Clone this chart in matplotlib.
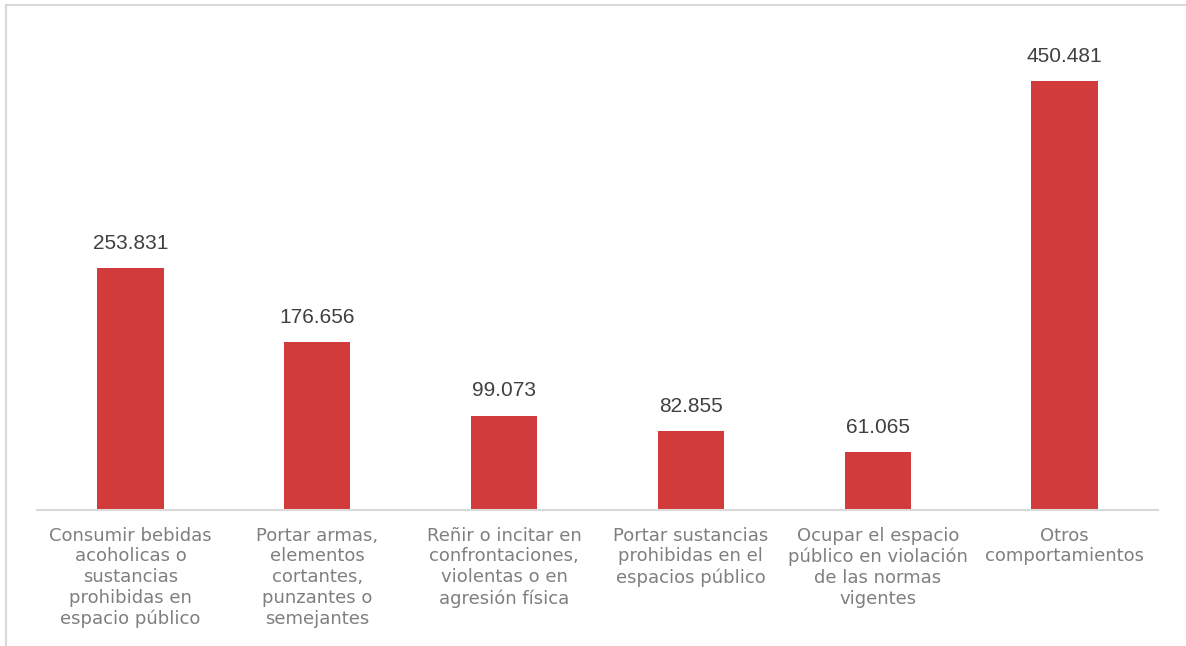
import matplotlib
matplotlib.use("Agg")
import matplotlib.pyplot as plt
from matplotlib.lines import Line2D

categories = [
    "Consumir bebidas\nacoholicas o\nsustancias\nprohibidas en\nespacio público",
    "Portar armas,\nelementos\ncortantes,\npunzantes o\nsemejantes",
    "Reñir o incitar en\nconfrontaciones,\nviolentas o en\nagresión física",
    "Portar sustancias\nprohibidas en el\nespacios público",
    "Ocupar el espacio\npúblico en violación\nde las normas\nvigentes",
    "Otros\ncomportamientos",
]
values = [253831, 176656, 99073, 82855, 61065, 450481]
value_labels = ["253.831", "176.656", "99.073", "82.855", "61.065", "450.481"]

bar_color = "#D13B3C"
grid_gray = "#D9D9D9"

fig = plt.figure(figsize=(11.86, 6.46), dpi=100)
ax = fig.add_axes([37 / 1186, 1 - 510 / 646, 1121 / 1186, 476 / 646])

x = list(range(len(categories)))
bars = ax.bar(x, values, width=0.355, color=bar_color, zorder=2)

ax.set_xlim(-0.5, len(categories) - 0.5)
ax.set_ylim(0, 500000)

for rect, lab in zip(bars, value_labels):
    ax.annotate(lab, (rect.get_x() + rect.get_width() / 2, rect.get_height()),
                xytext=(0, 11), textcoords="offset points",
                ha="center", va="bottom", fontsize=15,
                family="Liberation Sans", color="#404040")

ax.set_xticks(x)
ax.set_xticklabels(categories, fontsize=13, color="#7F7F7F",
                   family="DejaVu Sans", linespacing=1.2)
ax.tick_params(axis="x", length=0, pad=12)
ax.set_yticks([])

for side in ["top", "right", "left"]:
    ax.spines[side].set_visible(False)
ax.spines["bottom"].set_color(grid_gray)
ax.spines["bottom"].set_linewidth(1.5)

# light frame along the top and left edges
fig.add_artist(Line2D([6 / 1186, 1], [1 - 5 / 646, 1 - 5 / 646],
                      transform=fig.transFigure, color=grid_gray, lw=1.5))
fig.add_artist(Line2D([6 / 1186, 6 / 1186], [0, 1 - 5 / 646],
                      transform=fig.transFigure, color=grid_gray, lw=1.5))

fig.savefig("out.png", dpi=100, facecolor="white")
